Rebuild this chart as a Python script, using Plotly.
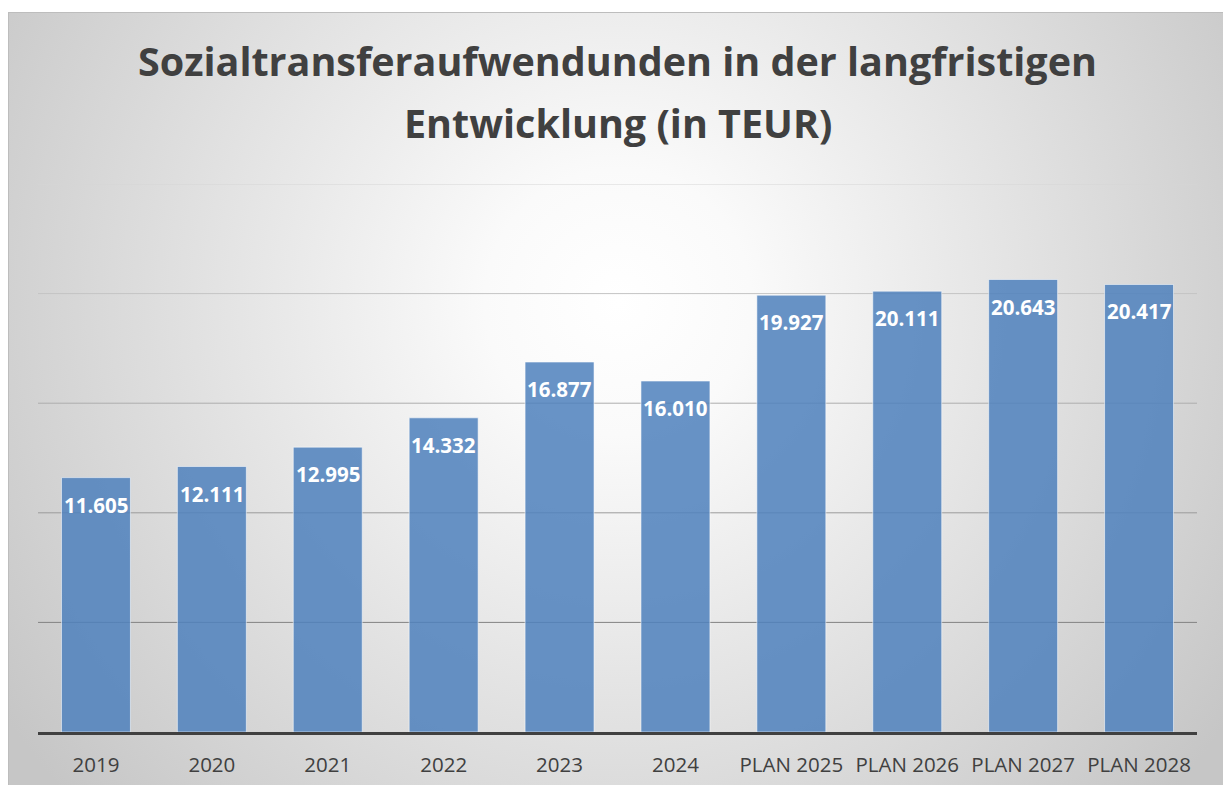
import base64
import plotly.graph_objects as go

# ---- data ----
categories = ["2019", "2020", "2021", "2022", "2023", "2024",
              "PLAN 2025", "PLAN 2026", "PLAN 2027", "PLAN 2028"]
values = [11605, 12111, 12995, 14332, 16877, 16010, 19927, 20111, 20643, 20417]
value_labels = ["11.605", "12.111", "12.995", "14.332", "16.877", "16.010",
                "19.927", "20.111", "20.643", "20.417"]
grid_values = [5000, 10000, 15000, 20000, 25000]
title_line1 = "Sozialtransferaufwendunden in der langfristigen"
title_line2 = "Entwicklung (in TEUR)"

# ---- layout geometry (pixels) ----
W, H = 1223, 785
L, R, T, B = 38, 1223 - 1197, 184, 785 - 732
pw, ph = W - L - R, H - T - B

def px_x(x):  # pixel -> paper
    return (x - L) / pw

def px_y(y):
    return (H - B - y) / ph

grid_colors = ["#828282", "#9c9c9c", "#adadad", "#c4c4c4", "#d6d6d6"]

# background radial gradient as svg image (chart area starts at x=8, y=12)
bx0, by0 = 8, 12
bw, bh = W - bx0, H - by0
svg = f'''<svg xmlns="http://www.w3.org/2000/svg" width="{bw}" height="{bh}" viewBox="0 0 {bw} {bh}" preserveAspectRatio="none">
<defs><radialGradient id="g" gradientUnits="userSpaceOnUse" cx="610" cy="290" r="740">
<stop offset="0" stop-color="#ffffff"/><stop offset="0.18" stop-color="#fafafa"/><stop offset="1" stop-color="#c6c6c6"/>
</radialGradient></defs>
<rect x="0" y="0" width="{bw}" height="{bh}" fill="url(#g)"/>
<line x1="0.5" y1="0" x2="0.5" y2="{bh}" stroke="#bdbdbd" stroke-width="1"/>
<line x1="0" y1="0.5" x2="{bw}" y2="0.5" stroke="#bdbdbd" stroke-width="1"/>
</svg>'''
svg_uri = "data:image/svg+xml;base64," + base64.b64encode(svg.encode()).decode()

fig = go.Figure()
fig.add_trace(go.Bar(
    x=categories, y=values,
    marker=dict(color="rgba(79,129,189,0.86)",
                line=dict(color="rgba(255,255,255,0.55)", width=1)),
    hoverinfo="x+y",
))

shapes = []
for gv, gc in zip(grid_values, grid_colors):
    shapes.append(dict(type="line", xref="paper", yref="y", x0=0, x1=1, y0=gv, y1=gv,
                       line=dict(color=gc, width=1), layer="below"))

annotations = []
for i, (v, lab) in enumerate(zip(values, value_labels)):
    annotations.append(dict(x=i, y=v, xref="x", yref="y", text=lab, showarrow=False,
                            yanchor="top", yshift=-11,
                            font=dict(family="Open Sans", size=20.5, color="white", weight="bold")))
annotations.append(dict(x=0.5, y=px_y(61), xref="paper", yref="paper", text=f"<b>{title_line1}</b>",
                        showarrow=False, yanchor="middle", xanchor="center",
                        font=dict(family="Open Sans", size=39.5, color="#404040")))
annotations.append(dict(x=0.5, y=px_y(123), xref="paper", yref="paper", text=f"<b>{title_line2}</b>",
                        showarrow=False, yanchor="middle", xanchor="center",
                        font=dict(family="Open Sans", size=39.5, color="#404040")))

fig.update_layout(
    width=W, height=H,
    margin=dict(l=L, r=R, t=T, b=B, pad=0, autoexpand=False),
    paper_bgcolor="white",
    plot_bgcolor="rgba(0,0,0,0)",
    showlegend=False,
    bargap=0.405,
    shapes=shapes,
    annotations=annotations,
    images=[dict(source=svg_uri, xref="paper", yref="paper",
                 x=px_x(bx0), y=px_y(by0), sizex=bw / pw, sizey=bh / ph,
                 xanchor="left", yanchor="top", sizing="stretch", layer="below")],
    xaxis=dict(type="category", range=[-0.5, len(categories) - 0.5], showgrid=False,
               showline=True, linecolor="#404040", linewidth=3, automargin=False,
               ticks="", tickfont=dict(family="Open Sans", size=20.5, color="#404040"),
               ticklabelstandoff=12, fixedrange=True),
    yaxis=dict(range=[0, 25000], showgrid=False, zeroline=False, showticklabels=False,
               automargin=False, fixedrange=True),
)

fig.write_html("out.html", config={"displayModeBar": False},
               post_script="document.body.style.margin='0';")
